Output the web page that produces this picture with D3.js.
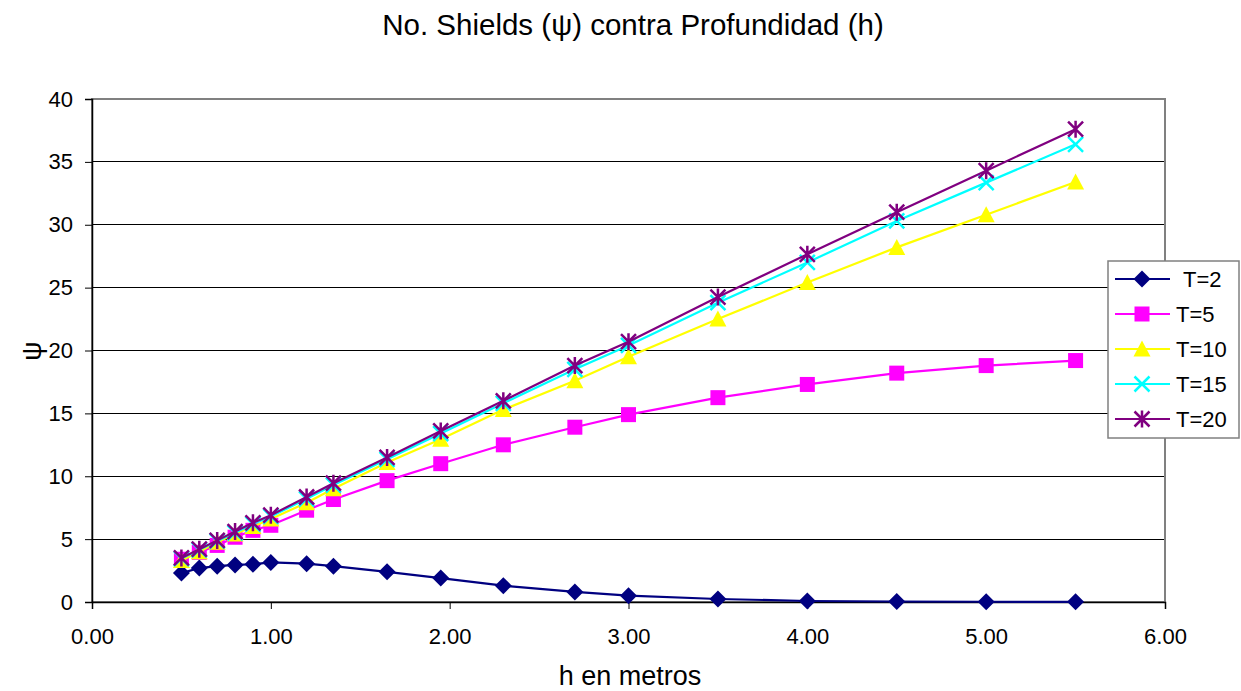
<!DOCTYPE html>
<html><head><meta charset="utf-8">
<script src="https://cdn.jsdelivr.net/npm/d3@7"></script>
<style>body{margin:0;background:#fff}svg{display:block}text{font-family:"Liberation Sans",Arial,sans-serif}</style>
</head><body>
<svg id="c" width="1241" height="691"></svg>
<script>
const hValues = [0.5,0.6,0.7,0.8,0.9,1.0,1.2,1.35,1.65,1.95,2.3,2.7,3.0,3.5,4.0,4.5,5.0,5.5];
const seriesNames = ["T=2","T=5","T=10","T=15","T=20"];
const psiT2  = [2.3,2.7,2.85,2.95,3.0,3.15,3.05,2.85,2.4,1.9,1.3,0.8,0.5,0.24,0.08,0.04,0.02,0.01];
const psiT5  = [3.4,3.95,4.5,5.15,5.7,6.1,7.3,8.15,9.65,11.0,12.5,13.9,14.9,16.25,17.3,18.2,18.8,19.2];
const psiT10 = [3.3,4.0,4.75,5.4,6.0,6.6,7.9,9.0,11.1,12.95,15.3,17.6,19.5,22.5,25.4,28.2,30.8,33.4];
const psiT15 = [3.45,4.15,4.85,5.5,6.2,6.8,8.2,9.3,11.35,13.4,15.8,18.5,20.4,23.8,27.0,30.3,33.35,36.4];
const psiT20 = [3.5,4.2,4.9,5.6,6.3,6.9,8.35,9.45,11.5,13.6,16.0,18.8,20.7,24.25,27.65,31.0,34.3,37.6];
const xTicks = [0,1,2,3,4,5,6];
const yTicks = [0,5,10,15,20,25,30,35,40];
const seriesValues = [psiT2, psiT5, psiT10, psiT15, psiT20];

const colors = ["#000080","#FF00FF","#FFFF00","#00FFFF","#800080"];
const markers = ["diamond","square","triangle","x","star"];

const svg = d3.select("#c");
const L = 92, R = 1165, T = 99, B = 602;
const x = d3.scaleLinear().domain([0,6]).range([L,R]);
const y = d3.scaleLinear().domain([0,40]).range([B,T]);

// gridlines
svg.append("g").selectAll("line").data(yTicks.filter(d=>d>0)).join("line")
  .attr("x1",L).attr("x2",R).attr("y1",d=>y(d)).attr("y2",d=>y(d))
  .attr("stroke","#000").attr("stroke-width",1).attr("shape-rendering","crispEdges");
// plot border (gray)
svg.append("rect").attr("x",L).attr("y",T).attr("width",R-L).attr("height",B-T)
  .attr("fill","none").attr("stroke","#808080").attr("stroke-width",2);

// axes
const xAxis = d3.axisBottom(x).tickValues(xTicks).tickSize(7).tickPadding(19).tickFormat(d3.format(".2f"));
const gx = svg.append("g").attr("transform",`translate(0,${B})`).call(xAxis);
const yAxis = d3.axisLeft(y).tickValues(yTicks).tickSize(7).tickPadding(12).tickFormat(d3.format("d"));
const gy = svg.append("g").attr("transform",`translate(${L},0)`).call(yAxis);
[gx,gy].forEach(g=>{
  g.attr("font-size",22).attr("font-family","'Liberation Sans',Arial,sans-serif");
  g.select(".domain").attr("stroke","#000").attr("stroke-width",1.5);
  g.selectAll(".tick line").attr("stroke","#000");
  g.selectAll(".tick text").attr("fill","#000");
});

// marker drawing
function drawMarker(g, type, color, s){
  const h = s/2;
  if(type==="diamond"){
    g.append("path").attr("d",`M0,${-h-1}L${h+1},0L0,${h+1}L${-h-1},0Z`).attr("fill",color);
  } else if(type==="square"){
    g.append("rect").attr("x",-h).attr("y",-h).attr("width",s).attr("height",s).attr("fill",color);
  } else if(type==="triangle"){
    g.append("path").attr("d",`M0,${-h-1}L${h+1},${h}L${-h-1},${h}Z`).attr("fill",color);
  } else if(type==="x"){
    g.append("path").attr("d",`M${-h},${-h}L${h},${h}M${-h},${h}L${h},${-h}`).attr("stroke",color).attr("stroke-width",2.5).attr("fill","none");
  } else if(type==="star"){
    g.append("path").attr("d",`M${-h},${-h}L${h},${h}M${-h},${h}L${h},${-h}M0,${-h-1}L0,${h+1}`).attr("stroke",color).attr("stroke-width",2.5).attr("fill","none");
  }
}

const line = d3.line().x((d,i)=>x(hValues[i])).y(d=>y(d));
seriesValues.forEach((vals,si)=>{
  const g = svg.append("g");
  g.append("path").attr("d",line(vals)).attr("fill","none").attr("stroke",colors[si]).attr("stroke-width",2.2);
  vals.forEach((v,i)=>{
    const mg = g.append("g").attr("transform",`translate(${x(hValues[i])},${y(v)})`);
    drawMarker(mg, markers[si], colors[si], 15);
  });
});

// legend
const lg = svg.append("g");
lg.append("rect").attr("x",1108).attr("y",261).attr("width",131).attr("height",177)
  .attr("fill","#fff").attr("stroke","#808080").attr("stroke-width",1.5);
seriesNames.forEach((n,i)=>{
  const yy = 279 + i*35;
  lg.append("line").attr("x1",1115).attr("x2",1170).attr("y1",yy).attr("y2",yy).attr("stroke",colors[i]).attr("stroke-width",2.2);
  const mg = lg.append("g").attr("transform",`translate(1142,${yy})`);
  drawMarker(mg, markers[i], colors[i], 15);
  lg.append("text").attr("x", i===0?1183:1176).attr("y",yy).attr("dy","0.36em").attr("font-size",22).text(n);
});

// titles
svg.append("text").attr("x",633).attr("y",35).attr("text-anchor","middle").attr("font-size",29.5).text("No. Shields (ψ) contra Profundidad (h)");
svg.append("text").attr("x",630).attr("y",685).attr("text-anchor","middle").attr("font-size",27).text("h en metros");
svg.append("text").attr("transform","translate(32,351) rotate(-90)").attr("text-anchor","middle").attr("dy","0.35em").attr("font-size",27).text("ψ");
</script>
</body></html>
